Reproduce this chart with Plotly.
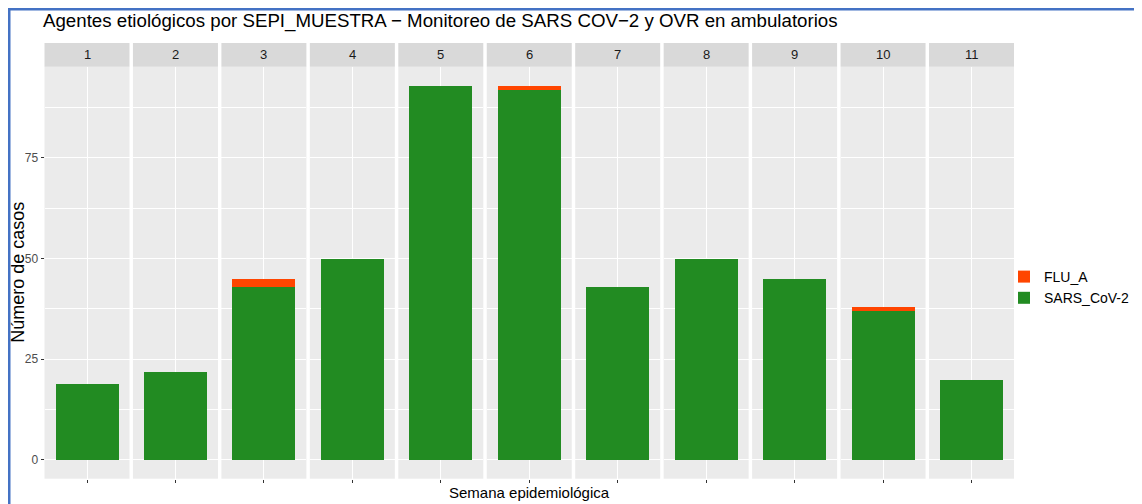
import plotly.graph_objects as go

# ---- data ----
semanas = ["1", "2", "3", "4", "5", "6", "7", "8", "9", "10", "11"]
sars_cov2 = [19, 22, 43, 50, 93, 92, 43, 50, 45, 37, 20]
flu_a = [0, 0, 2, 0, 0, 1, 0, 0, 0, 1, 0]
y_ticks = [0, 25, 50, 75]
y_minor = [12.5, 37.5, 62.5, 87.5]

title_text = "Agentes etiológicos por SEPI_MUESTRA − Monitoreo de SARS COV−2 y OVR en ambulatorios"
x_title = "Semana epidemiológica"
y_title = "Número de casos"

# ---- layout helpers: page body has an 8px margin, so the figure origin is at (8, 8) ----
OFF = 8
W, H = 1142 - OFF, 504 - OFF
def px(x): return (x - OFF) / W
def py(y): return 1 - (y - OFF) / H

FONT = "Liberation Sans, Arial, sans-serif"
GREEN = "#228B22"
RED = "#FF4500"

x_left, x_right = 44.5, 1014.0
gap = 3.45
n = len(semanas)
pw = (x_right - x_left - gap * (n - 1)) / n
panel_top, panel_bot = 66.7, 478.7
strip_top = 43.0

ymax = max(s + f for s, f in zip(sars_cov2, flu_a))
yr = [-0.05 * ymax, ymax * 1.05]

fig = go.Figure()
layout_axes = {}
shapes = []
annotations = []

for i in range(n):
    xa = "x" if i == 0 else f"x{i+1}"
    ya = "y" if i == 0 else f"y{i+1}"
    fig.add_trace(go.Bar(x=[1], y=[sars_cov2[i]], width=0.9, marker=dict(color=GREEN, line=dict(width=0)),
                         name="SARS_CoV-2", legendgroup="sars", showlegend=(i == 0), legendrank=2,
                         xaxis=xa, yaxis=ya))
    fig.add_trace(go.Bar(x=[1], y=[flu_a[i]], width=0.9, marker=dict(color=RED, line=dict(width=0)),
                         name="FLU_A", legendgroup="flu", showlegend=(i == 0), legendrank=1,
                         xaxis=xa, yaxis=ya))
    l = x_left + i * (pw + gap)
    r = l + pw
    xkey = "xaxis" if i == 0 else f"xaxis{i+1}"
    ykey = "yaxis" if i == 0 else f"yaxis{i+1}"
    layout_axes[xkey] = dict(domain=[px(l), px(r)], range=[0.4, 1.6], anchor=ya,
                             tickvals=[1], ticktext=[""], ticks="outside", ticklen=3,
                             tickcolor="#333333", tickwidth=1, showgrid=True, gridcolor="white",
                             gridwidth=1.4, zeroline=False, showline=False, fixedrange=True)
    yax = dict(domain=[py(panel_bot), py(panel_top)], range=yr, anchor=xa,
               tickvals=y_ticks, showgrid=True, gridcolor="white", gridwidth=1.4,
               zeroline=False, showline=False,
               minor=dict(tickvals=y_minor, showgrid=True, gridcolor="white", gridwidth=0.7, ticks=""))
    if i == 0:
        yax.update(ticks="outside", ticklen=3, tickcolor="#333333", tickwidth=1,
                   tickfont=dict(family=FONT, size=12, color="#4D4D4D"))
    else:
        yax.update(showticklabels=False, ticks="", matches="y")
    layout_axes[ykey] = yax
    # strip
    shapes.append(dict(type="rect", xref="paper", yref="paper", x0=px(l), x1=px(r),
                       y0=py(panel_top), y1=py(strip_top), fillcolor="#D9D9D9", line=dict(width=0),
                       layer="below"))
    annotations.append(dict(text=semanas[i], xref="paper", yref="paper", x=px((l + r) / 2),
                            y=py((strip_top + panel_top) / 2), xanchor="center", yanchor="middle",
                            showarrow=False, font=dict(family=FONT, size=13, color="#1A1A1A")))

# title & axis titles
annotations.append(dict(text=title_text, xref="paper", yref="paper", x=px(41), y=py(21),
                        xanchor="left", yanchor="middle", showarrow=False,
                        font=dict(family=FONT, size=18.7, color="black")))
annotations.append(dict(text=x_title, xref="paper", yref="paper", x=px((x_left + x_right) / 2), y=py(492),
                        xanchor="center", yanchor="middle", showarrow=False,
                        font=dict(family=FONT, size=15, color="black")))
annotations.append(dict(text=y_title, xref="paper", yref="paper", x=px(18), y=py((panel_top + panel_bot) / 2),
                        xanchor="center", yanchor="middle", showarrow=False, textangle=-90,
                        font=dict(family=FONT, size=18, color="black")))

# blue screenshot frame (top and left edges, partly outside the figure)
shapes.append(dict(type="line", xref="paper", yref="paper", x0=0, x1=1, y0=1, y1=1,
                   line=dict(color="#4472C4", width=5)))
shapes.append(dict(type="line", xref="paper", yref="paper", x0=0, x1=0, y0=0, y1=1,
                   line=dict(color="#4472C4", width=5)))

fig.update_layout(
    width=W, height=H, margin=dict(l=0, r=0, t=0, b=0),
    paper_bgcolor="white", plot_bgcolor="#EBEBEB",
    barmode="stack", bargap=0,
    showlegend=True,
    legend=dict(x=px(1004), y=py(261), xanchor="left", yanchor="top",
                font=dict(family=FONT, size=14, color="black"), tracegroupgap=0,
                bgcolor="rgba(0,0,0,0)", itemwidth=30),
    shapes=shapes, annotations=annotations,
    **layout_axes,
)

fig.write_html("out.html")
